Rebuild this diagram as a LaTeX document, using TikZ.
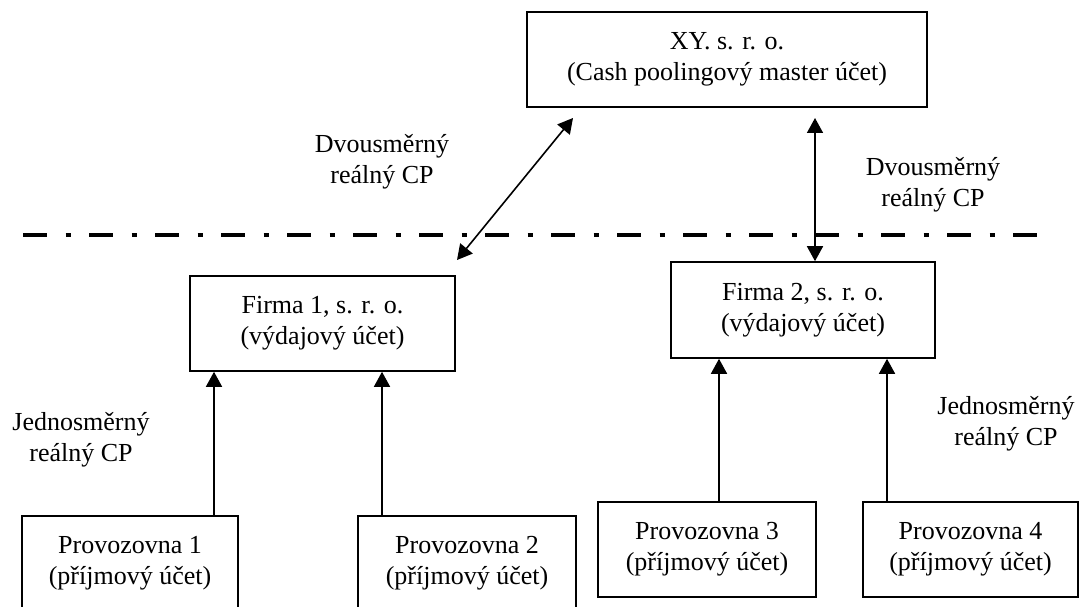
\documentclass[tikz,border=0pt]{standalone}
\usepackage{fontspec}
\setmainfont{Liberation Serif}
\usetikzlibrary{arrows.meta}
\begin{document}
\begin{tikzpicture}[x=1pt,y=-1pt,
  acct/.style={draw, line width=1.6pt, inner sep=0pt, align=center,
    font=\fontsize{26}{31}\selectfont},
  lbl/.style={inner sep=0pt, align=center, font=\fontsize{26}{31}\selectfont},
  flow/.style={line width=1.6pt, -{Triangle[length=15pt,width=16pt]}},
  twoway/.style={line width=1.6pt,
    {Triangle[length=15pt,width=16pt]}-{Triangle[length=15pt,width=16pt]}},
  divider/.style={line width=4.5pt,
    dash pattern=on 24pt off 18.5pt on 5pt off 18.5pt}]
\useasboundingbox (0,0) rectangle (1079,607);
\clip (0,0) rectangle (1079,607);

% master account
\node[acct, minimum width=400pt, minimum height=95pt] (xy) at (727,59.5)
  {XY. s. r. o.\\(Cash poolingový master účet)};

% company expense accounts
\node[acct, minimum width=265pt, minimum height=95pt] (f1) at (322.5,323.5)
  {Firma 1, s. r. o.\\(výdajový účet)};
\node[acct, minimum width=264pt, minimum height=96pt] (f2) at (803,310)
  {Firma 2, s. r. o.\\(výdajový účet)};

% branch income accounts
\node[acct, minimum width=216pt, minimum height=95pt] (p1) at (130,563.5)
  {Provozovna 1\\(příjmový účet)};
\node[acct, minimum width=218pt, minimum height=95pt] (p2) at (467,563.5)
  {Provozovna 2\\(příjmový účet)};
\node[acct, minimum width=218pt, minimum height=95pt] (p3) at (707,549.5)
  {Provozovna 3\\(příjmový účet)};
\node[acct, minimum width=215pt, minimum height=95pt] (p4) at (970.5,549.5)
  {Provozovna 4\\(příjmový účet)};

% labels
\node[lbl] (lt1) at (382,161.5) {Dvousměrný\\reálný CP};
\node[lbl] (lt2) at (933,185) {Dvousměrný\\reálný CP};
\node[lbl] (lj1) at (81,440) {Jednosměrný\\reálný CP};
\node[lbl] (lj2) at (1006,424) {Jednosměrný\\reálný CP};

% dividing line
\coordinate (dl) at (23,235);
\coordinate (dr) at (1037,235);
\draw[divider] (dl) -- (dr);

% two-way pooling links
\coordinate (d1) at (573,118);
\coordinate (d2) at (457,260);
\draw[twoway] (d1) -- (d2);
\coordinate (v1) at (815,118);
\draw[twoway] (v1) -- (f2.north -| v1);

% one-way pooling links
\coordinate (k1) at (214,0);
\coordinate (k2) at (382,0);
\coordinate (k3) at (719,0);
\coordinate (k4) at (887,0);
\draw[flow] (p1.north -| k1) -- (f1.south -| k1);
\draw[flow] (p2.north -| k2) -- (f1.south -| k2);
\draw[flow] (p3.north -| k3) -- (f2.south -| k3);
\draw[flow] (p4.north -| k4) -- (f2.south -| k4);
\end{tikzpicture}
\end{document}
